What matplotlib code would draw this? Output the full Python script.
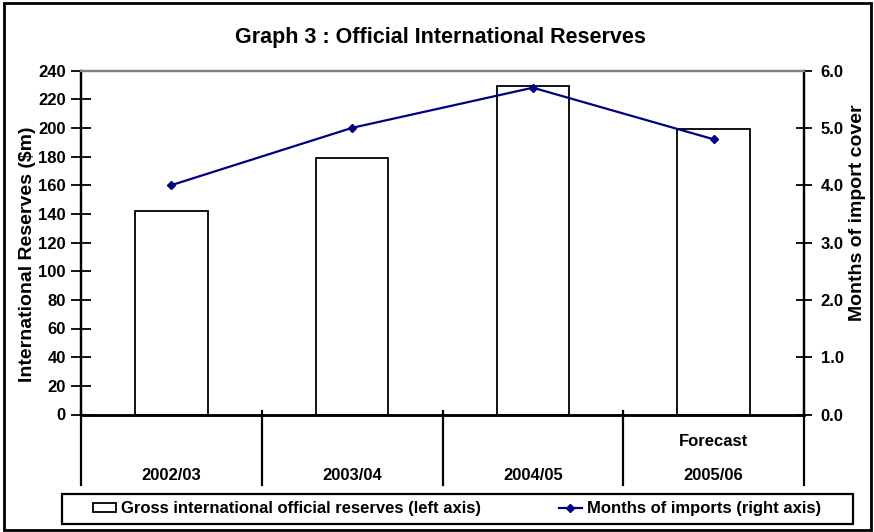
import matplotlib
matplotlib.use("Agg")
import matplotlib.pyplot as plt
from matplotlib.patches import Rectangle, Patch
from matplotlib.lines import Line2D

plt.rcParams['font.family'] = ['Liberation Sans', 'DejaVu Sans']
plt.rcParams['font.weight'] = 'bold'

categories = ["2002/03", "2003/04", "2004/05", "2005/06"]
reserves = [142, 179, 229, 199]
months_cover = [4.0, 5.0, 5.7, 4.8]
left_ticks = list(range(0, 241, 20))
right_ticks = [0.0, 1.0, 2.0, 3.0, 4.0, 5.0, 6.0]
title = "Graph 3 : Official International Reserves"
left_label = "International Reserves ($m)"
right_label = "Months of import cover"
bar_legend = "Gross international official reserves (left axis)"
line_legend = "Months of imports (right axis)"
forecast_note = "Forecast"

W, H = 874, 532
fig = plt.figure(figsize=(W / 100, H / 100), dpi=100)
fs = 12

def fx(px):
    return px / W

def fy(py):
    return 1 - py / H

ax = fig.add_axes([fx(81), fy(414.5), fx(804) - fx(81), fy(70.5) - fy(414.5)])
x = list(range(len(categories)))
ax.bar(x, reserves, width=0.4, facecolor='white', edgecolor='black', linewidth=1.3, zorder=2)
ax.set_xlim(-0.5, len(categories) - 0.5)
ax.set_ylim(0, 240)
ax.set_yticks(left_ticks)
ax.set_yticklabels([str(t) for t in left_ticks], fontsize=fs, fontweight='bold')
ax.set_xticks([])
ax.tick_params(axis='y', direction='inout', length=14, width=1.3, pad=4)

ax2 = ax.twinx()
ax2.plot(x, months_cover, color='#000080', linewidth=1.6, marker='D', markersize=4.5, zorder=3)
ax2.set_ylim(0, 6)
ax2.set_yticks(right_ticks)
ax2.set_yticklabels([f"{t:.1f}" for t in right_ticks], fontsize=fs, fontweight='bold')
ax2.tick_params(axis='y', direction='inout', length=12, width=1.3, pad=6)

for a in (ax, ax2):
    a.spines['left'].set_linewidth(1.6)
    a.spines['right'].set_linewidth(1.6)
    a.spines['bottom'].set_linewidth(1.8)
    a.spines['top'].set_color('#808080')
    a.spines['top'].set_linewidth(1.6)
    a.set_facecolor('none')

# category separators below the axis
trans = ax.get_xaxis_transform()
sep_bottom = -(485 - 414.5) / (414.5 - 70.5)
for b in [i - 0.5 for i in range(len(categories) + 1)]:
    ax.plot([b, b], [0.01, sep_bottom], color='black', linewidth=1.6,
            transform=trans, clip_on=False)
lab_y = -(475 - 414.5) / (414.5 - 70.5)
for i, c in enumerate(categories):
    ax.text(i, lab_y, c, transform=trans, ha='center', va='center',
            fontsize=fs, fontweight='bold')
fc_y = -(441 - 414.5) / (414.5 - 70.5)
ax.text(len(categories) - 1, fc_y, forecast_note, transform=trans, ha='center',
        va='center', fontsize=fs, fontweight='bold')

# title and axis labels
fig.text(fx(440), fy(38), title, ha='center', va='center', fontsize=15.5, fontweight='bold')
fig.text(fx(28), fy(254), left_label, ha='center', va='center', rotation=90,
         fontsize=14, fontweight='bold')
fig.text(fx(858), fy(213), right_label, ha='center', va='center', rotation=90,
         fontsize=14, fontweight='bold')

# legend
handles = [Patch(facecolor='white', edgecolor='black', linewidth=1.3),
           Line2D([], [], color='#000080', linewidth=1.6, marker='D', markersize=4.5)]
leg = fig.legend(handles, [bar_legend, line_legend], ncol=2, mode='expand',
                 loc='center', bbox_to_anchor=(fx(93), fy(524), fx(821) - fx(93), fy(494) - fy(524)),
                 frameon=False, borderpad=0, borderaxespad=0, handlelength=1.4,
                 handleheight=0.45, handletextpad=0.3,
                 prop={'size': fs, 'weight': 'bold'})
fig.patches.append(Rectangle((fx(62), fy(524)), fx(853) - fx(62), fy(494) - fy(524),
                             transform=fig.transFigure, fill=False, edgecolor='black',
                             linewidth=1.6))
# outer border
fig.patches.append(Rectangle((fx(4), fy(530)), fx(871) - fx(4), fy(3) - fy(530),
                             transform=fig.transFigure, fill=False, edgecolor='black',
                             linewidth=2))

fig.savefig("out.png", dpi=100)
